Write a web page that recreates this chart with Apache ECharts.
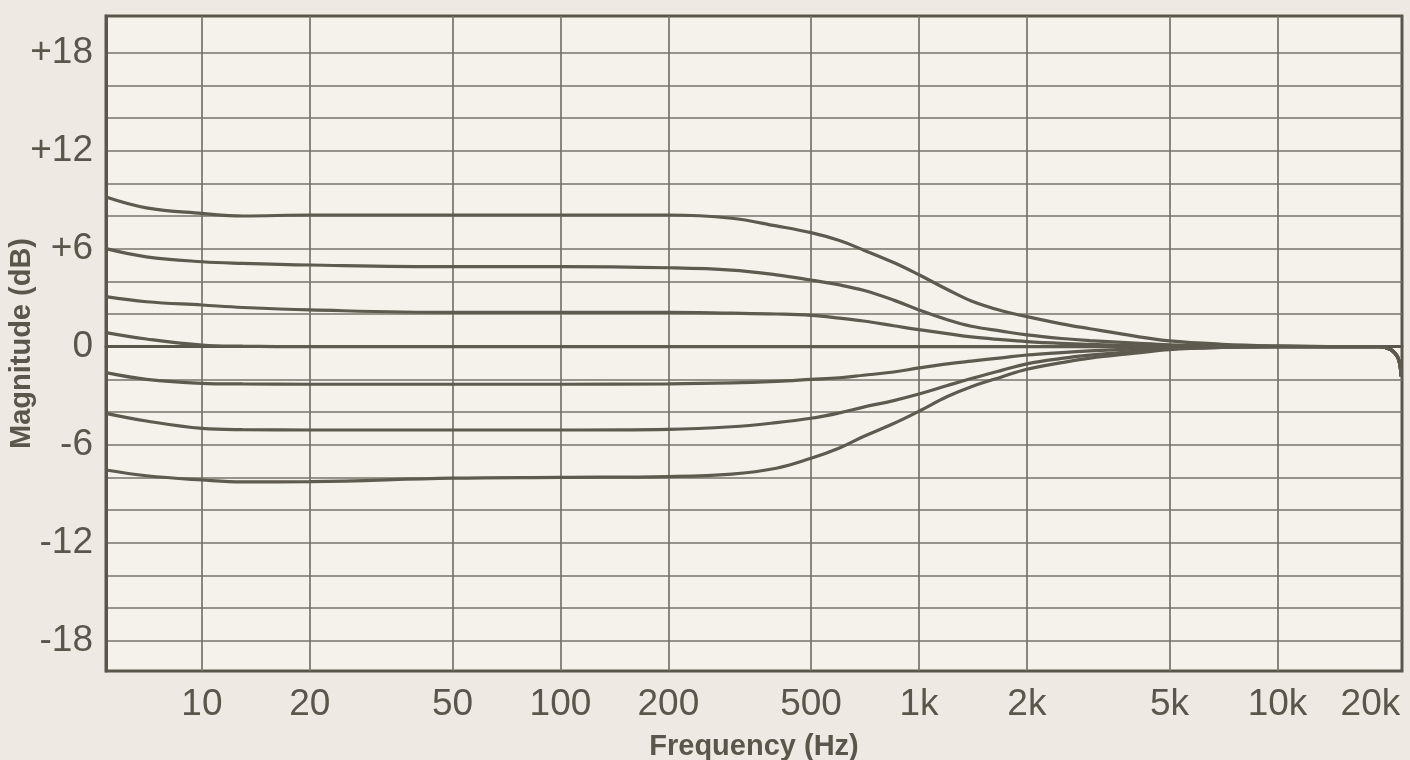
<!DOCTYPE html>
<html>
<head>
<meta charset="utf-8">
<script src="https://cdn.jsdelivr.net/npm/echarts@6/dist/echarts.min.js"></script>
<style>
html,body{margin:0;padding:0;background:#eeeae3;}
#chart{width:1410px;height:760px;}
</style>
</head>
<body>
<div id="chart"></div>
<script>
// Frequencies (Hz) at which the curves were read
const freqs = [5.4, 7, 10, 13, 20, 50, 100, 200, 300, 400, 500, 600, 700, 850, 1000, 1200, 1400, 1700, 2000, 2500, 3000, 4000, 5000, 7000, 10000, 15000, 19300, 20600, 21300, 21700, 22000, 22100];
// Magnitude (dB) of each curve
const boost8 = [9.16, 8.5, 8.16, 8.0, 8.06, 8.06, 8.06, 8.06, 7.86, 7.39, 6.98, 6.5, 5.92, 5.15, 4.4, 3.5, 2.8, 2.2, 1.84, 1.4, 1.1, 0.65, 0.35, 0.15, 0.05, 0, 0, -0.16, -0.42, -0.69, -1.22, -1.8];
const boost5 = [6.0, 5.5, 5.2, 5.1, 5.0, 4.9, 4.9, 4.83, 4.69, 4.4, 4.08, 3.78, 3.45, 2.85, 2.25, 1.65, 1.25, 0.95, 0.72, 0.5, 0.37, 0.22, 0.12, 0.05, 0.02, 0, 0, -0.16, -0.42, -0.69, -1.22, -1.8];
const boost2 = [3.06, 2.75, 2.55, 2.4, 2.25, 2.1, 2.1, 2.1, 2.05, 2.0, 1.92, 1.75, 1.57, 1.28, 1.04, 0.8, 0.6, 0.43, 0.31, 0.2, 0.14, 0.07, 0.03, 0.01, 0, 0, 0, -0.16, -0.42, -0.69, -1.22, -1.8];
const flat0 = [0.86, 0.47, 0.1, 0.03, 0, 0, 0, 0, 0, 0, 0, 0, 0, 0, 0, 0, 0, 0, 0, 0, 0, 0, 0, 0, 0, 0, 0, -0.16, -0.42, -0.69, -1.22, -1.8];
const cut2 = [-1.59, -2.0, -2.24, -2.28, -2.3, -2.3, -2.3, -2.28, -2.22, -2.12, -2.0, -1.9, -1.75, -1.55, -1.3, -1.05, -0.88, -0.68, -0.51, -0.36, -0.26, -0.14, -0.06, -0.02, 0, 0, 0, -0.16, -0.42, -0.69, -1.22, -1.8];
const cut5 = [-4.08, -4.55, -5.0, -5.08, -5.1, -5.1, -5.1, -5.06, -4.9, -4.65, -4.38, -4.05, -3.7, -3.3, -2.9, -2.38, -1.95, -1.45, -1.05, -0.72, -0.52, -0.28, -0.12, -0.04, 0, 0, 0, -0.16, -0.42, -0.69, -1.22, -1.8];
const cut8 = [-7.55, -7.9, -8.16, -8.28, -8.26, -8.05, -8.0, -7.95, -7.8, -7.44, -6.83, -6.2, -5.5, -4.7, -3.95, -3.05, -2.45, -1.85, -1.38, -0.98, -0.7, -0.4, -0.18, -0.05, 0, 0, 0, -0.16, -0.42, -0.69, -1.22, -1.8];

// Axis ticks
const xTickFreqs = [10, 20, 50, 100, 200, 500, 1000, 2000, 5000, 10000, 20000];
const xTickLabels = ['10', '20', '50', '100', '200', '500', '1k', '2k', '5k', '10k', '20k'];
const xGridFreqs = [10, 20, 50, 100, 200, 500, 1000, 2000, 5000, 10000];
const xMinFreq = 5.4, xMaxFreq = 22250;
const yTickLabels = [-18, -12, -6, 0, 6, 12, 18];
const yGridValues = [-18, -16, -14, -12, -10, -8, -6, -4, -2, 0, 2, 4, 6, 8, 10, 12, 14, 16, 18];
const yMin = -19.85, yMax = 20.24;

const curves = [boost8, boost5, boost2, flat0, cut2, cut5, cut8];

const ink = '#5a564b';
const gridColor = '#77736a';
const font = '"Liberation Sans", Arial, Helvetica, sans-serif';

const lg = v => Math.log10(v);

const chart = echarts.init(document.getElementById('chart'), null, {renderer: 'canvas'});
chart.setOption({
  animation: false,
  backgroundColor: '#eeeae3',
  grid: {
    left: 106, right: 8, top: 16, bottom: 89,
    show: true, backgroundColor: '#f5f2ec', borderColor: ink, borderWidth: 3,
    containLabel: false, outerBoundsMode: 'none'
  },
  xAxis: {
    type: 'value',
    min: lg(xMinFreq), max: lg(xMaxFreq),
    name: 'Frequency (Hz)',
    nameLocation: 'middle',
    nameGap: 61,
    nameMoveOverlap: false,
    nameTextStyle: {color: ink, fontFamily: font, fontWeight: 'bold', fontSize: 29},
    axisLine: {show: true, lineStyle: {color: ink, width: 3}},
    axisTick: {show: false, customValues: xGridFreqs.map(lg)},
    splitLine: {show: true, lineStyle: {color: gridColor, width: 1.7}},
    axisLabel: {
      customValues: xTickFreqs.map(lg),
      color: ink, fontFamily: font, fontSize: 37, margin: 15,
      formatter: function (v) {
        let best = 0;
        for (let i = 1; i < xTickFreqs.length; i++) {
          if (Math.abs(lg(xTickFreqs[i]) - v) < Math.abs(lg(xTickFreqs[best]) - v)) best = i;
        }
        if (best === xTickFreqs.length - 1) return '{s|' + xTickLabels[best] + '}';
        return xTickLabels[best];
      },
      rich: {s: {color: ink, fontFamily: font, fontSize: 37, padding: [0, 30, 0, 0]}}
    }
  },
  yAxis: {
    type: 'value',
    min: yMin, max: yMax,
    name: 'Magnitude (dB)',
    nameLocation: 'middle',
    nameGap: 70,
    nameMoveOverlap: false,
    nameTextStyle: {color: ink, fontFamily: font, fontWeight: 'bold', fontSize: 29},
    axisLine: {show: true, lineStyle: {color: ink, width: 3}},
    axisTick: {show: false, customValues: yGridValues},
    splitLine: {show: true, lineStyle: {color: gridColor, width: 1.7}},
    axisLabel: {
      customValues: yTickLabels,
      color: ink, fontFamily: font, fontSize: 37, margin: 13,
      formatter: function (v) {
        const r = Math.round(v);
        return r > 0 ? '+' + r : String(r);
      }
    }
  },
  series: curves.map(function (c) {
    return {
      type: 'line',
      data: freqs.map(function (f, i) { return [lg(f), c[i]]; }),
      showSymbol: false,
      smooth: 0.4,
      clip: true,
      lineStyle: {color: '#5e5a4f', width: 3.2},
      z: 3
    };
  })
});
</script>
</body>
</html>
